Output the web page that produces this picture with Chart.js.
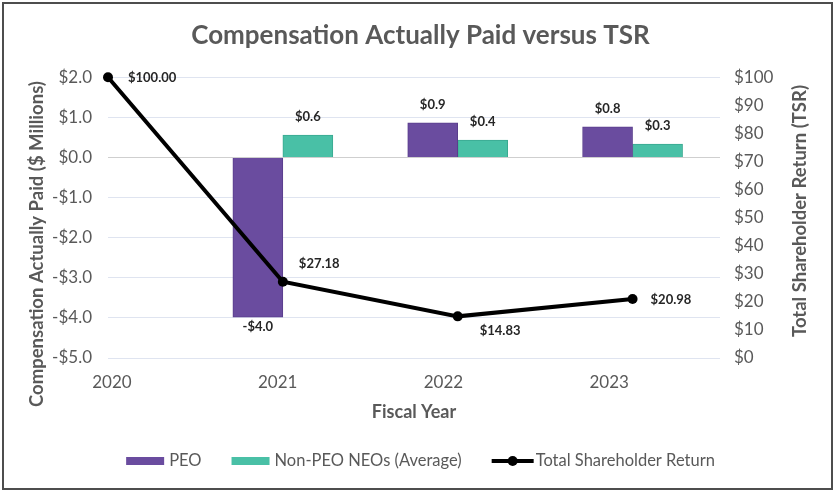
<!DOCTYPE html>
<html>
<head>
<meta charset="utf-8">
<script src="https://cdn.jsdelivr.net/npm/chart.js@4"></script>
<style>
  html, body { margin: 0; padding: 0; background: #fff; }
  #wrap { position: relative; width: 839px; height: 494px; }
  #wrap canvas { position: absolute; left: 0; top: 0; }
  #frame { position: absolute; left: 2px; top: 2px; width: 827px; height: 484px; border: 2px solid #4d4d4d; pointer-events: none; }
</style>
</head>
<body>
<div id="wrap">
  <canvas id="chart" width="839" height="494"></canvas>
  <div id="frame"></div>
</div>
<script>
// --- data ---
const years = [2020, 2021, 2022, 2023];
const barYears = [2021, 2022, 2023];
const peo = [-3.98, 0.86, 0.76];
const nonPeo = [0.56, 0.43, 0.33];
const tsr = [100.00, 27.18, 14.83, 20.98];

const seriesNames = ['PEO', 'Non-PEO NEOs (Average)', 'Total Shareholder Return'];
const leftTitle = 'Compensation Actually Paid ($ Millions)';
const rightTitle = 'Total Shareholder Return (TSR)';

const PURPLE = '#6a4c9f';
const TEAL = '#49c0a6';
const GREY = '#595959';
const FONT = 'Lato, "Open Sans", sans-serif';

// where each TSR label sits relative to its point
const tsrLabelOffsets = [[20, 1], [16, -18], [22, 14], [18, 1]];

function money1(v) {
  return (v < 0 ? '-$' : '$') + Math.abs(v).toFixed(1);
}

// value labels on bars and line points
const valueLabels = {
  id: 'valueLabels',
  afterDatasetsDraw(chart) {
    const ctx = chart.ctx;
    ctx.save();
    ctx.font = 'bold 13px ' + FONT;
    ctx.fillStyle = '#262626';
    ctx.textBaseline = 'middle';
    chart.data.datasets.forEach((ds, di) => {
      const meta = chart.getDatasetMeta(di);
      meta.data.forEach((el, i) => {
        const v = ds.data[i].y;
        if (ds.type === 'bar') {
          ctx.textAlign = 'center';
          ctx.fillText(money1(v), el.x, v >= 0 ? el.y - 18 : el.y + 10);
        } else {
          const off = tsrLabelOffsets[i];
          ctx.textAlign = 'left';
          ctx.fillText('$' + v.toFixed(2), el.x + off[0], el.y + off[1]);
        }
      });
    });
    ctx.restore();
  }
};

// both vertical axis titles read bottom to top
const axisTitles = {
  id: 'axisTitles',
  afterDraw(chart) {
    const ctx = chart.ctx;
    ctx.save();
    ctx.font = 'bold 18.5px ' + FONT;
    ctx.fillStyle = GREY;
    ctx.textAlign = 'center';
    ctx.textBaseline = 'middle';
    [[leftTitle, 37, 244], [rightTitle, 800, 211]].forEach(([t, x, y]) => {
      ctx.save();
      ctx.translate(x, y);
      ctx.rotate(-Math.PI / 2);
      ctx.fillText(t, 0, 0);
      ctx.restore();
    });
    ctx.restore();
  }
};

// legend drawn below the axis title
const bottomLegend = {
  id: 'bottomLegend',
  afterDraw(chart) {
    const ctx = chart.ctx;
    ctx.save();
    ctx.font = '16.5px ' + FONT;
    ctx.textBaseline = 'middle';
    const y = 461;
    const sw = 38, gap = 5, spacing = 30;
    const widths = seriesNames.map(t => ctx.measureText(t).width);
    const total = widths.reduce((a, b) => a + b, 0) + 3 * (sw + gap) + 2 * spacing + 4;
    let x = 422 - total / 2;
    // PEO
    ctx.fillStyle = PURPLE;
    ctx.fillRect(x, y - 4, sw, 8);
    x += sw + gap;
    ctx.fillStyle = GREY;
    ctx.fillText(seriesNames[0], x, y);
    x += widths[0] + spacing;
    // Non-PEO
    ctx.fillStyle = TEAL;
    ctx.fillRect(x, y - 4, sw, 8);
    x += sw + gap;
    ctx.fillStyle = GREY;
    ctx.fillText(seriesNames[1], x, y);
    x += widths[1] + spacing;
    // TSR
    ctx.strokeStyle = '#000';
    ctx.lineWidth = 4;
    ctx.beginPath();
    ctx.moveTo(x, y);
    ctx.lineTo(x + sw + 4, y);
    ctx.stroke();
    ctx.fillStyle = '#000';
    ctx.beginPath();
    ctx.arc(x + (sw + 4) / 2, y, 5, 0, Math.PI * 2);
    ctx.fill();
    x += sw + 4 + gap - 3;
    ctx.fillStyle = GREY;
    ctx.fillText(seriesNames[2], x, y);
    ctx.restore();
  }
};

new Chart(document.getElementById('chart'), {
  data: {
    datasets: [
      {
        type: 'line',
        label: seriesNames[2],
        data: years.map((x, i) => ({ x, y: tsr[i] })),
        xAxisID: 'x',
        yAxisID: 'y1',
        borderColor: '#000',
        backgroundColor: '#000',
        borderWidth: 4,
        pointRadius: 5,
        pointBackgroundColor: '#000',
        pointBorderWidth: 0,
        tension: 0,
        clip: false,
        order: 0
      },
      {
        type: 'bar',
        label: seriesNames[0],
        data: barYears.map((x, i) => ({ x, y: peo[i] })),
        xAxisID: 'x',
        yAxisID: 'y',
        backgroundColor: PURPLE,
        borderColor: '#5a3e8c',
        borderWidth: 1,
        barThickness: 50,
        order: 1
      },
      {
        type: 'bar',
        label: seriesNames[1],
        data: barYears.map((x, i) => ({ x, y: nonPeo[i] })),
        xAxisID: 'x',
        yAxisID: 'y',
        backgroundColor: TEAL,
        borderColor: '#3aa990',
        borderWidth: 1,
        barThickness: 50,
        order: 1
      }
    ]
  },
  options: {
    responsive: false,
    devicePixelRatio: 1,
    animation: false,
    layout: { padding: { left: 20, right: 18, top: 0, bottom: 56 } },
    plugins: {
      legend: { display: false },
      tooltip: { enabled: false },
      title: {
        display: true,
        text: 'Compensation Actually Paid versus TSR',
        color: GREY,
        font: { family: FONT, size: 26, weight: 'bold' },
        padding: { top: 20, bottom: 26 }
      }
    },
    scales: {
      x: {
        type: 'linear',
        min: 2020,
        max: 2023.5,
        offset: false,
        display: false
      },
      xt: {
        type: 'linear',
        position: 'bottom',
        min: 2019.976,
        max: 2023.669,
        offset: false,
        grid: { display: false, drawTicks: false },
        border: { display: false },
        afterBuildTicks: s => { s.ticks = years.map(v => ({ value: v })); },
        afterFit: s => { s.height = 80; },
        ticks: {
          padding: 14,
          color: GREY,
          font: { family: FONT, size: 17 },
          maxRotation: 0,
          callback: v => String(v)
        },
        title: {
          display: true,
          text: 'Fiscal Year',
          color: GREY,
          font: { family: FONT, size: 18, weight: 'bold' },
          padding: { top: 0, bottom: 15 }
        }
      },
      y: {
        position: 'left',
        min: -5,
        max: 2,
        afterFit: s => { s.width = 88; },
        grid: {
          color: ctx => ctx.tick && ctx.tick.value === 0 ? '#cfcfcf' : '#dfe4f0',
          drawTicks: false
        },
        border: { display: false },
        ticks: {
          stepSize: 1,
          padding: 16,
          color: GREY,
          font: { family: FONT, size: 17 },
          callback: v => money1(v)
        }
      },
      y1: {
        position: 'right',
        min: 0,
        max: 100,
        afterFit: s => { s.width = 101; },
        grid: { display: false, drawTicks: false },
        border: { display: false },
        ticks: {
          stepSize: 10,
          padding: 14,
          color: GREY,
          font: { family: FONT, size: 17 },
          callback: v => '$' + v
        }
      }
    }
  },
  plugins: [valueLabels, axisTitles, bottomLegend]
});
</script>
</body>
</html>
